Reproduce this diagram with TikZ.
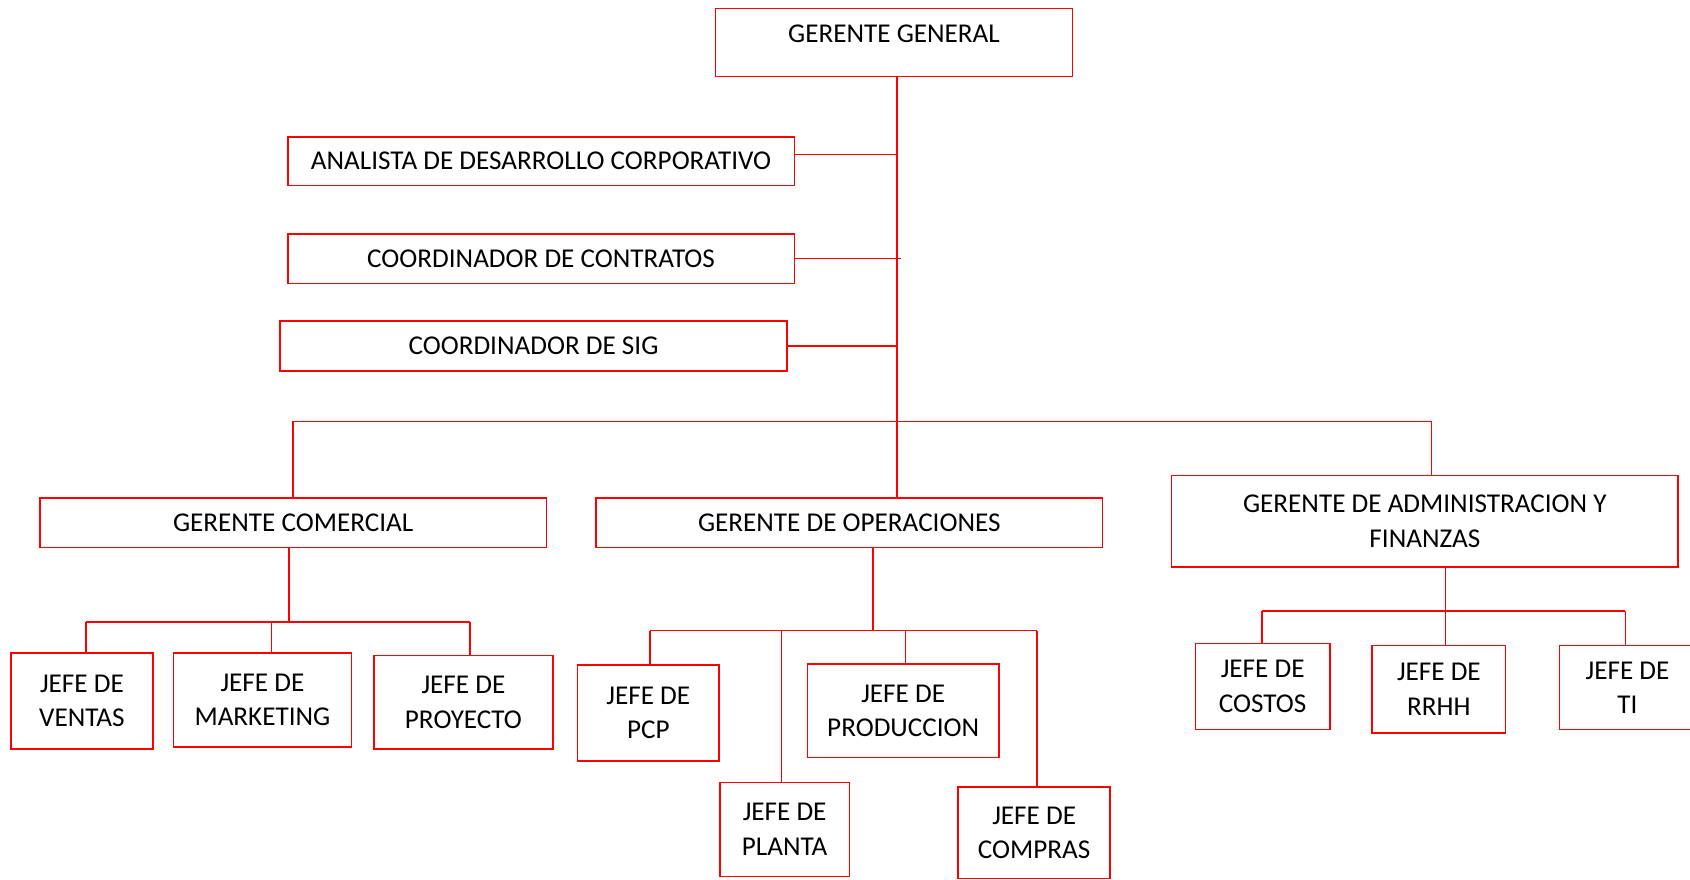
\documentclass[tikz,border=0pt]{standalone}
\usepackage{fontspec}
\setmainfont{Carlito}
\begin{document}
\begin{tikzpicture}[x=0.5pt,y=-0.5pt,
  box/.style={draw=red,line width=0.7pt,rectangle,inner sep=0pt,align=center,
    font=\fontsize{12.6}{16}\selectfont},
  link/.style={draw=red,line width=0.7pt}]
\useasboundingbox[fill=white] (0,0) rectangle (1568,816);

% top management
\node[box,minimum width=165.5pt,minimum height=31.5pt,
  label={[font=\fontsize{12.6}{16}\selectfont,anchor=center,yshift=-12pt]north:GERENTE GENERAL}]
  (gg) at (829.5,39.5) {};

% staff positions
\node[box,minimum width=235pt,minimum height=22.5pt] (ana) at (502,149.5) {ANALISTA DE DESARROLLO CORPORATIVO};
\node[box,minimum width=235pt,minimum height=23pt] (con) at (502,240) {COORDINADOR DE CONTRATOS};
\node[box,minimum width=235pt,minimum height=23pt] (sig) at (495,321) {COORDINADOR DE SIG};

% managers
\node[box,minimum width=235pt,minimum height=23pt] (gc) at (272,485) {GERENTE COMERCIAL};
\node[box,minimum width=235pt,minimum height=23pt] (go) at (788,485) {GERENTE DE OPERACIONES};
\node[box,minimum width=235pt,minimum height=42.5pt] (gaf) at (1322,483.5) {GERENTE DE ADMINISTRACION Y\\FINANZAS};

% commercial area
\node[box,minimum width=66pt,minimum height=44.5pt] (ven) at (76,650.5) {JEFE DE\\VENTAS};
\node[box,minimum width=82.5pt,minimum height=43.5pt] (mkt) at (243.5,649.5) {JEFE DE\\MARKETING};
\node[box,minimum width=83pt,minimum height=43.5pt] (pro) at (430,651.5) {JEFE DE\\PROYECTO};

% operations area
\node[box,minimum width=65.5pt,minimum height=44.5pt] (pcp) at (601.5,661.5) {JEFE DE\\PCP};
\node[box,minimum width=89pt,minimum height=43.5pt] (prd) at (838,659.5) {JEFE DE\\PRODUCCION};
\node[box,minimum width=60pt,minimum height=43.5pt] (pla) at (728,769.5) {JEFE DE\\PLANTA};
\node[box,minimum width=70.5pt,minimum height=42.5pt] (com) at (959.5,772.5) {JEFE DE\\COMPRAS};

% administration area
\node[box,minimum width=62.5pt,minimum height=40pt] (cos) at (1171.5,637) {JEFE DE\\COSTOS};
\node[box,minimum width=62pt,minimum height=40.5pt] (rrh) at (1335,639.5) {JEFE DE\\RRHH};
\node[box,minimum width=63pt,minimum height=39pt] (ti) at (1510,638) {JEFE DE\\TI};

% main trunk and staff branches
\coordinate (tx) at (832,0);
\draw[link] (gg.south -| tx) -- (go.north -| tx);
\draw[link] ([yshift=3pt]ana.east) -- ([yshift=3pt]ana.east -| tx);
\draw[link] (con.east) -- ([xshift=2pt]con.east -| tx);
\draw[link] (sig.east) -- (sig.east -| tx);

% manager bus
\coordinate (mbR) at (1328,391);
\draw[link] (gc.north) |- (mbR) -- (mbR |- gaf.north);

% commercial bus
\coordinate (cbS) at (268,577);
\coordinate (cbL) at (80,577);
\coordinate (cbM) at (252,577);
\coordinate (cbR) at (436,577);
\draw[link] (cbS |- gc.south) -- (cbS);
\draw[link] (cbL) -- (cbR);
\draw[link] (cbL) -- (cbL |- ven.north);
\draw[link] (cbM) -- (cbM |- mkt.north);
\draw[link] (cbR) -- (cbR |- pro.north);

% operations bus
\coordinate (obS) at (810,585);
\coordinate (obA) at (603,585);
\coordinate (obB) at (725,585);
\coordinate (obC) at (840,585);
\coordinate (obD) at (962,585);
\draw[link] (obS |- go.south) -- (obS);
\draw[link] (obA) -- (obD);
\draw[link] (obA) -- (obA |- pcp.north);
\draw[link] (obB) -- (obB |- pla.north);
\draw[link] (obC) -- (obC |- prd.north);
\draw[link] (obD) -- (obD |- com.north);

% administration bus
\coordinate (abS) at (1341,567);
\coordinate (abA) at (1171,567);
\coordinate (abC) at (1508,567);
\draw[link] (abS |- gaf.south) -- (abS);
\draw[link] (abA) -- (abC);
\draw[link] (abA) -- (abA |- cos.north);
\draw[link] (abS) -- (abS |- rrh.north);
\draw[link] (abC) -- (abC |- ti.north);
\end{tikzpicture}
\end{document}
